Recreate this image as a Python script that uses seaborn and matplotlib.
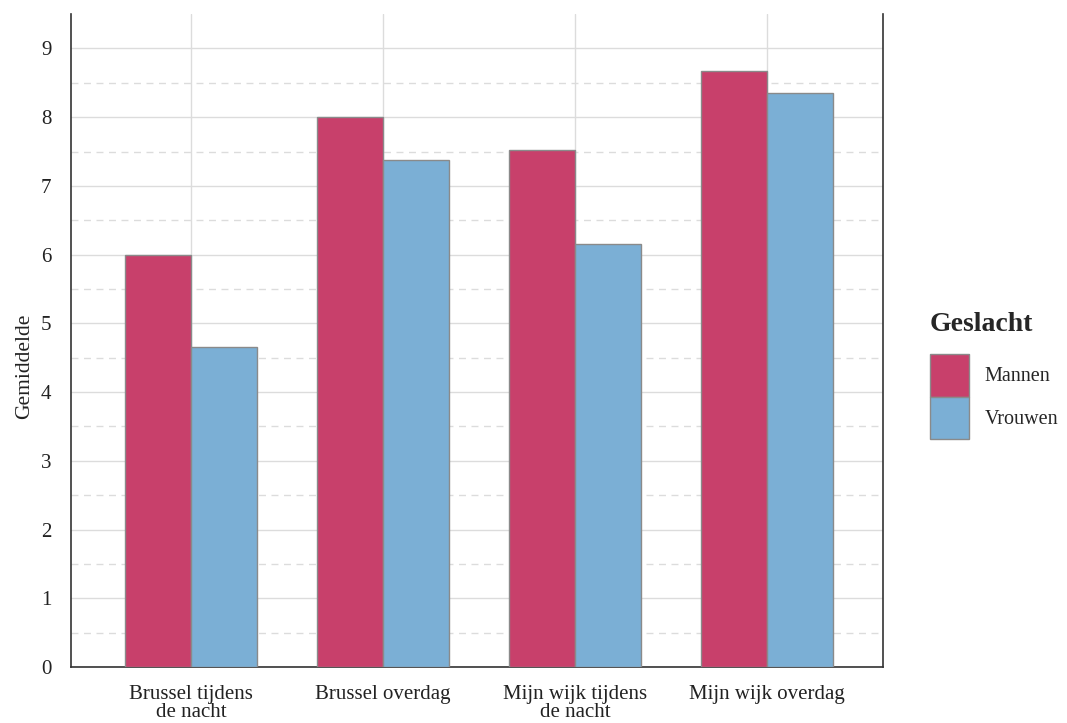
import matplotlib
matplotlib.use("Agg")
import matplotlib.pyplot as plt
from matplotlib.ticker import MultipleLocator, FixedLocator
import seaborn as sns
import pandas as pd

# data
categories = ["Brussel tijdens\nde nacht", "Brussel overdag",
              "Mijn wijk tijdens\nde nacht", "Mijn wijk overdag"]
mannen = [6.0, 8.0, 7.52, 8.67]
vrouwen = [4.66, 7.38, 6.16, 8.35]
groups = ["Mannen", "Vrouwen"]
colors = ["#C8406B", "#7BAFD5"]

df = pd.DataFrame({
    "categorie": categories * 2,
    "Geslacht": [groups[0]] * 4 + [groups[1]] * 4,
    "waarde": mannen + vrouwen,
})

sns.set_style("white")
plt.rcParams['font.family'] = ['Liberation Serif', 'DejaVu Serif']

fig = plt.figure(figsize=(10.67, 7.23), dpi=100)
ax = fig.add_axes([0.0665, 0.0775, 0.761, 0.903])

sns.barplot(data=df, x="categorie", y="waarde", hue="Geslacht",
            palette=colors, saturation=1, width=0.69, edgecolor="#8a8a8a",
            linewidth=1, ax=ax, zorder=3)

ax.set_xlim(-0.625, 3.605)
ax.set_ylim(0, 9.5)
ax.yaxis.set_major_locator(MultipleLocator(1))
ax.yaxis.set_minor_locator(FixedLocator([i + 0.5 for i in range(9)]))
ax.grid(True, which="major", axis="both", color="#dcdcdc", linewidth=1, zorder=0)
ax.grid(True, which="minor", axis="y", color="#dcdcdc", linewidth=1,
        linestyle=(0, (5, 4)), zorder=0)
ax.set_axisbelow(True)

ax.tick_params(axis="both", which="major", length=8, color="#dcdcdc",
               labelsize=15, labelcolor="#222222")
ax.tick_params(axis="y", which="minor", length=0)
ax.tick_params(axis="x", pad=5)
ax.tick_params(axis="y", pad=6)
for lab in ax.get_xticklabels():
    lab.set_linespacing(0.95)

for side in ["left", "right", "bottom"]:
    ax.spines[side].set_color("#333333")
    ax.spines[side].set_linewidth(1.2)
ax.spines["top"].set_visible(False)

ax.set_xlabel("")
ax.set_ylabel("Gemiddelde", fontsize=15.5, color="#222222")
ax.yaxis.set_label_coords(-0.045, 0.46)

leg = ax.legend(title="Geslacht", loc="upper left",
                bbox_to_anchor=(930 / 1067, 1 - 312 / 723),
                bbox_transform=fig.transFigure, borderpad=0, borderaxespad=0,
                frameon=False, fontsize=14.5, handlelength=1.95, handleheight=2.9,
                labelspacing=0.0, handletextpad=0.75)
leg.get_title().set_fontweight("bold")
leg.get_title().set_fontsize(20)
leg._legend_box.align = "left"
leg._legend_box.sep = 12
for p in leg.get_patches():
    p.set_edgecolor("#8a8a8a")

fig.savefig("out.png", dpi=100)
